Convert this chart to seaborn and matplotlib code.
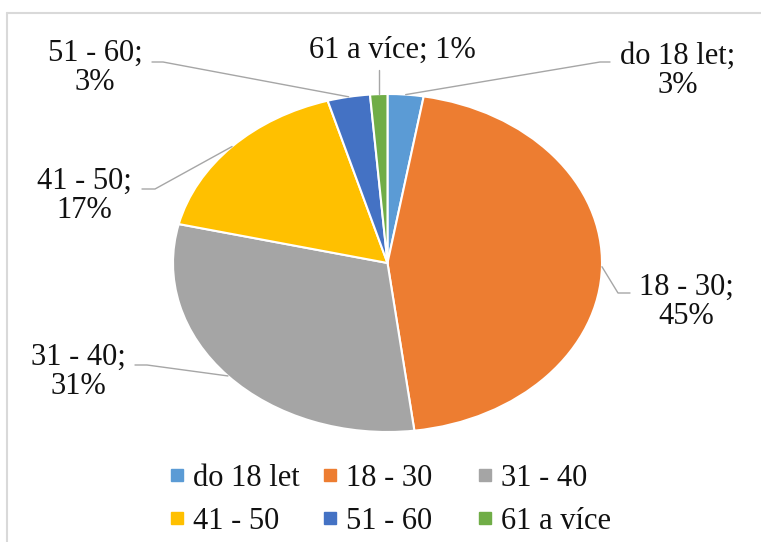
import seaborn as sns
import matplotlib.pyplot as plt
from matplotlib.lines import Line2D
import numpy as np

# age groups and their share in percent
categories = ['do 18 let', '18 - 30', '31 - 40', '41 - 50', '51 - 60', '61 a více']
shares = [2.7, 45.3, 30.7, 16.8, 3.2, 1.3]
colors = ['#5B9BD5', '#ED7D31', '#A5A5A5', '#FFC000', '#4472C4', '#70AD47']

sns.set_theme(style="white")
sns.set_palette(colors)
FONT = 'Liberation Serif'
plt.rcParams['font.family'] = [FONT, 'DejaVu Serif']

W, H = 761, 542
fig = plt.figure(figsize=(W / 100, H / 100), dpi=100)

# pie is an ellipse in the reference (stretched horizontally)
cx, cy, rx, ry = 387.5, 263, 214.5, 169
pie_ax = fig.add_axes([(cx - rx) / W, (H - cy - ry) / H, 2 * rx / W, 2 * ry / H])
wedges, _ = pie_ax.pie(shares, colors=sns.color_palette(), startangle=90, counterclock=False,
                       radius=1, wedgeprops=dict(edgecolor='white', linewidth=1.5))
pie_ax.set_aspect('auto')
pie_ax.set_xlim(-1, 1)
pie_ax.set_ylim(-1, 1)
pie_ax.axis('off')

# overlay in pixel coordinates for labels, leader lines and the frame
ov = fig.add_axes([0, 0, 1, 1])
ov.set_xlim(0, W)
ov.set_ylim(H, 0)
ov.axis('off')

ov.plot([7, W], [13, 13], color='#d9d9d9', lw=1.5)
ov.plot([7, 7], [13, H], color='#d9d9d9', lw=1.5)

# label placement: (text center x, y, elbow, line end)
label_pos = [
    (678, 71, (600, 62), (610, 62)),
    (686, 302, (618, 293), (630, 293)),
    (78, 372, (147, 365), (135, 365)),
    (84, 196, (155, 189), (142, 189)),
    (95, 68, (163, 62), (152, 62)),
    (392, 50, None, None),
]

cum = 0
fs = 22
for name, v, (tx, ty, elbow, end) in zip(categories, shares, label_pos):
    mid = 90 - 360 * (cum + v / 2) / 100
    cum += v
    edge = pie_ax.transData.transform((np.cos(np.radians(mid)), np.sin(np.radians(mid))))
    ex, ey = ov.transData.inverted().transform(edge)
    if elbow is None:
        ov.plot([ex, ex], [ey, 70], color='#a6a6a6', lw=1)
        txt = f'{name}; {round(v)}%'
    else:
        ov.plot([ex, elbow[0], end[0]], [ey, elbow[1], end[1]], color='#a6a6a6', lw=1)
        txt = f'{name};\n{round(v)}%'
    ov.text(tx, ty, txt, ha='center', va='center', fontsize=fs, linespacing=1.0,
            color='#111111', family=FONT)

# legend: three columns, two rows
col_x = [169, 322, 477]
for c in range(3):
    handles, labels = [], []
    for r in range(2):
        i = r * 3 + c
        handles.append(Line2D([], [], marker='s', linestyle='', markersize=8.6,
                              color=colors[i]))
        labels.append(categories[i])
    leg = fig.legend(handles, labels, loc='center left',
                     bbox_to_anchor=(col_x[c] / W, 1 - 500 / H),
                     frameon=False, prop=dict(family=FONT, size=fs),
                     handlelength=0.5, handletextpad=0.3,
                     borderpad=0, borderaxespad=0, labelspacing=0.45)
    for t in leg.get_texts():
        t.set_color('#111111')

fig.savefig('out.png', dpi=100, facecolor='white')
